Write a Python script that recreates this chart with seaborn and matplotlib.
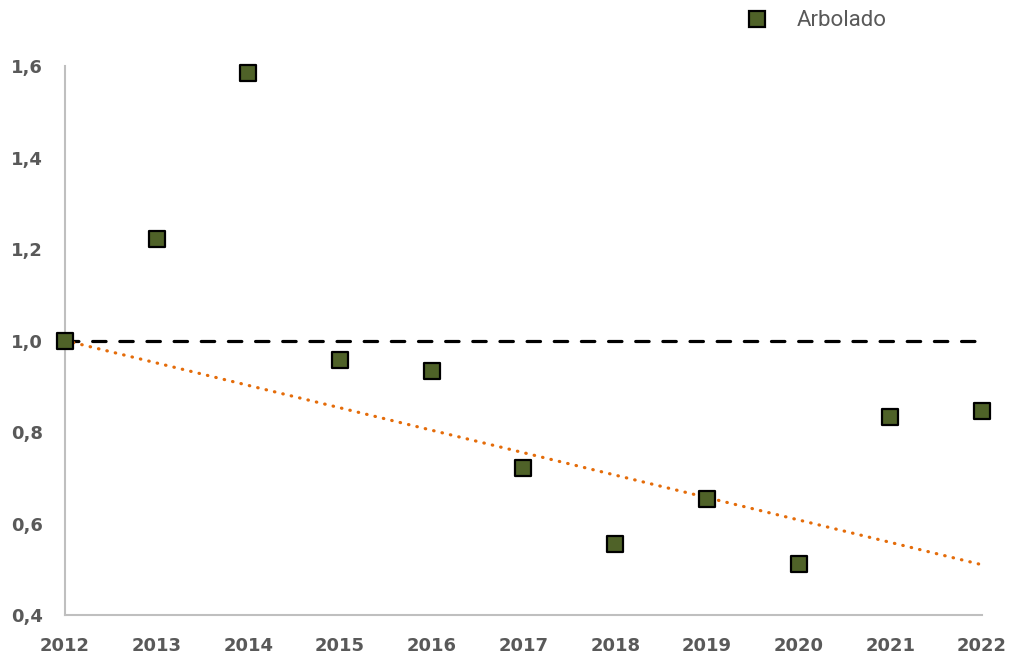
import numpy as np
import pandas as pd
import matplotlib
matplotlib.use('Agg')
import matplotlib.pyplot as plt
import seaborn as sns
from matplotlib.ticker import FuncFormatter

# Datos
years = [2012, 2013, 2014, 2015, 2016, 2017, 2018, 2019, 2020, 2021, 2022]
arbolado = [1.0, 1.222, 1.585, 0.957, 0.933, 0.721, 0.555, 0.654, 0.511, 0.833, 0.846]
ref_years = [2012, 2022]
ref_values = [1.0, 1.0]
trend_years = [2012, 2022]
trend_values = [1.0, 0.51]

sns.set_theme(style='white')
plt.rcParams['font.family'] = ['DejaVu Sans']

df = pd.DataFrame({'year': years, 'valor': arbolado})

fig = plt.figure(figsize=(10.15, 6.6), dpi=100)
ax = fig.add_axes([0.064, 0.068, 0.9035, 0.832])

# linea de referencia y tendencia
ax.plot(ref_years, ref_values, color='black', linestyle=(0, (4.2, 4.3)), linewidth=2.3,
        dash_capstyle='round', zorder=2)
ax.plot(trend_years, trend_values, color='#E46C0A', linestyle=(0, (0.15, 2.55)), linewidth=2.3,
        dash_capstyle='round', zorder=3)

sns.scatterplot(data=df, x='year', y='valor', marker='s', s=145, color='#4F6228',
                edgecolor='black', linewidth=1.6, ax=ax, zorder=4, legend=False)

ax.set_xlim(2012, 2022)
ax.set_ylim(0.4, 1.6)
ax.set_xticks(years)
ax.set_yticks([0.4, 0.6, 0.8, 1.0, 1.2, 1.4, 1.6])
ax.yaxis.set_major_formatter(FuncFormatter(lambda v, p: f'{v:.1f}'.replace('.', ',')))
ax.set_xlabel('')
ax.set_ylabel('')

for s in ['top', 'right']:
    ax.spines[s].set_visible(False)
for s in ['left', 'bottom']:
    ax.spines[s].set_color('#BFBFBF')
    ax.spines[s].set_linewidth(1.5)
ax.tick_params(axis='both', direction='in', length=5, width=1.5, color='#BFBFBF',
               labelcolor='#595959', labelsize=13)
ax.tick_params(axis='y', pad=16)
ax.tick_params(axis='x', pad=16)
for lab in ax.get_xticklabels() + ax.get_yticklabels():
    lab.set_fontweight('bold')

# leyenda
h = [plt.Line2D([], [], marker='s', linestyle='', markersize=11.5, markerfacecolor='#4F6228',
                markeredgecolor='black', markeredgewidth=1.6)]
fig.legend(h, ['Arbolado'], loc='center left', bbox_to_anchor=(746 / 1015, 1 - 21 / 660),
           frameon=False, handlelength=1.0, handletextpad=1.3, borderpad=0, borderaxespad=0,
           prop={'family': 'Roboto', 'size': 16}, labelcolor='#595959')

for c in ax.collections:
    c.set_clip_on(False)

plt.savefig('out.png', dpi=100)
